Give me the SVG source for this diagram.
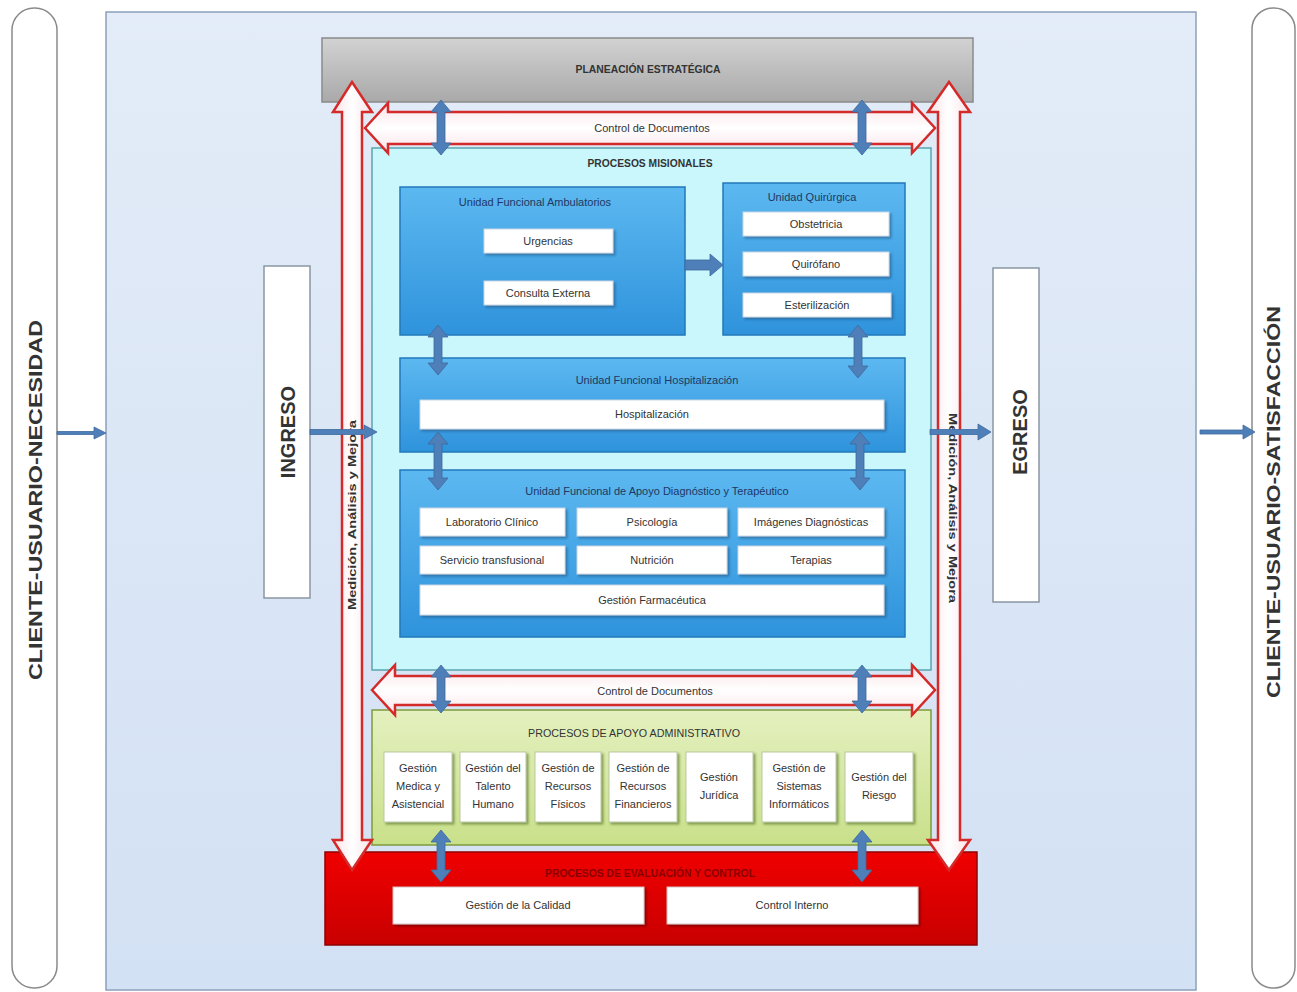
<svg xmlns="http://www.w3.org/2000/svg" width="1297" height="992" viewBox="0 0 1297 992">
<defs>
<linearGradient id="gMain" x1="0" y1="0" x2="0" y2="1"><stop offset="0" stop-color="#e3ecf8"/><stop offset="1" stop-color="#d3e1f4"/></linearGradient>
<linearGradient id="gGray" x1="0" y1="0" x2="0" y2="1"><stop offset="0" stop-color="#d2d2d2"/><stop offset="1" stop-color="#a9a9a9"/></linearGradient>
<linearGradient id="gBlue" x1="0" y1="0" x2="0" y2="1"><stop offset="0" stop-color="#5cb8f0"/><stop offset="1" stop-color="#2f93dc"/></linearGradient>
<linearGradient id="gGreen" x1="0" y1="0" x2="0" y2="1"><stop offset="0" stop-color="#e4f0bf"/><stop offset="1" stop-color="#c9e08a"/></linearGradient>
<linearGradient id="gRed" x1="0" y1="0" x2="0" y2="1"><stop offset="0" stop-color="#f00000"/><stop offset="1" stop-color="#c80000"/></linearGradient>
<linearGradient id="gPink" x1="0" y1="0" x2="1" y2="0"><stop offset="0" stop-color="#fbe3e8"/><stop offset="0.5" stop-color="#ffffff"/><stop offset="1" stop-color="#fbe3e8"/></linearGradient>
<linearGradient id="gPinkH" x1="0" y1="0" x2="0" y2="1"><stop offset="0" stop-color="#fbe3e8"/><stop offset="0.5" stop-color="#ffffff"/><stop offset="1" stop-color="#fbe3e8"/></linearGradient>
<filter id="sh" x="-10%" y="-10%" width="130%" height="140%"><feDropShadow dx="2" dy="2" stdDeviation="1.2" flood-color="#1a4f7a" flood-opacity="0.55"/></filter>
<filter id="shG" x="-10%" y="-10%" width="130%" height="140%"><feDropShadow dx="2" dy="2" stdDeviation="1.2" flood-color="#4d6b20" flood-opacity="0.6"/></filter>
<filter id="shR" x="-10%" y="-10%" width="130%" height="140%"><feDropShadow dx="2" dy="2" stdDeviation="1.2" flood-color="#600000" flood-opacity="0.6"/></filter>
</defs>
<style>
text{font-family:"Liberation Sans Narrow","Liberation Sans",Arial,sans-serif;text-anchor:middle;dominant-baseline:central}
.big{font-size:19px;font-weight:bold;fill:#333}
.io{font-size:20px;font-weight:bold;fill:#333}
.t{font-size:11px;fill:#333}
.h{font-size:11px;fill:#1f3864}
.cap{font-size:10px;font-weight:bold;fill:#333}
.wbox{fill:#ffffff;stroke:#c9d6e3;stroke-width:1}
.unit{fill:url(#gBlue);stroke:#2378bb;stroke-width:1.5}
.barrow{fill:#4f7fb8;stroke:#3d6a9f;stroke-width:0.8}
.rarrow{fill:url(#gPink);stroke:#d42a2a;stroke-width:2.5}
.rarrowH{fill:url(#gPinkH);stroke:#d42a2a;stroke-width:2.5}
.pill{fill:#ffffff;stroke:#8a8a8a;stroke-width:1.5}
.line{stroke:#4a6f96;fill:none}
</style>

<rect x="0" y="0" width="1297" height="992" fill="#ffffff"/>

<g id="cliente-necesidad">
<rect class="pill" x="12" y="8" width="45" height="980" rx="22"/>
<text class="big" transform="translate(35,500) rotate(-90)" textLength="360" lengthAdjust="spacingAndGlyphs">CLIENTE-USUARIO-NECESIDAD</text>
</g>
<g id="cliente-satisfaccion">
<rect class="pill" x="1252" y="8" width="43" height="980" rx="21"/>
<text class="big" transform="translate(1273,502) rotate(-90)" textLength="392" lengthAdjust="spacingAndGlyphs">CLIENTE-USUARIO-SATISFACCIÓN</text>
</g>

<g id="sistema">
<rect x="106" y="12" width="1090" height="978" fill="url(#gMain)" stroke="#8ca0bc" stroke-width="1.5"/>
</g>

<g id="ingreso">
<rect x="264" y="266" width="46" height="332" fill="#ffffff" stroke="#8a96a3" stroke-width="1.5"/>
<text class="io" transform="translate(288,432) rotate(-90)">INGRESO</text>
</g>
<g id="egreso">
<rect x="993" y="268" width="46" height="334" fill="#ffffff" stroke="#8a96a3" stroke-width="1.5"/>
<text class="io" transform="translate(1020,432) rotate(-90)">EGRESO</text>
</g>

<g id="planeacion">
<rect x="322" y="38" width="651" height="64" fill="url(#gGray)" stroke="#8a8a8a" stroke-width="1.5"/>
<text class="cap" x="648" y="69" textLength="145" lengthAdjust="spacingAndGlyphs">PLANEACIÓN ESTRATÉGICA</text>
</g>

<g id="misionales">
<rect x="372" y="148" width="559" height="522" fill="#c9f7fb" stroke="#5aa5b0" stroke-width="1.5"/>
<text class="cap" x="650" y="163" textLength="125" lengthAdjust="spacingAndGlyphs">PROCESOS MISIONALES</text>
</g>

<g id="ambulatorios">
<rect class="unit" x="400" y="187" width="285" height="148"/>
<text class="h" x="535" y="202">Unidad Funcional Ambulatorios</text>
<rect class="wbox" filter="url(#sh)" x="484" y="229" width="129" height="24"/>
<text class="t" x="548" y="241">Urgencias</text>
<rect class="wbox" filter="url(#sh)" x="484" y="281" width="129" height="24"/>
<text class="t" x="548" y="293">Consulta Externa</text>
</g>

<g id="quirurgica">
<rect class="unit" x="723" y="183" width="182" height="152"/>
<text class="h" x="812" y="197">Unidad Quirúrgica</text>
<rect class="wbox" filter="url(#sh)" x="743" y="212" width="146" height="24"/>
<text class="t" x="816" y="224">Obstetricia</text>
<rect class="wbox" filter="url(#sh)" x="743" y="252" width="146" height="24"/>
<text class="t" x="816" y="264">Quirófano</text>
<rect class="wbox" filter="url(#sh)" x="743" y="293" width="148" height="24"/>
<text class="t" x="817" y="305">Esterilización</text>
</g>

<g id="hospitalizacion">
<rect class="unit" x="400" y="358" width="505" height="94"/>
<text class="h" x="657" y="380">Unidad Funcional Hospitalización</text>
<rect class="wbox" filter="url(#sh)" x="420" y="400" width="464" height="29"/>
<text class="t" x="652" y="414">Hospitalización</text>
</g>

<g id="apoyo-diagnostico">
<rect class="unit" x="400" y="470" width="505" height="167"/>
<text class="h" x="657" y="491">Unidad Funcional de Apoyo Diagnóstico y Terapéutico</text>
<rect class="wbox" filter="url(#sh)" x="420" y="508" width="145" height="28"/>
<text class="t" x="492" y="522">Laboratorio Clínico</text>
<rect class="wbox" filter="url(#sh)" x="577" y="508" width="150" height="28"/>
<text class="t" x="652" y="522">Psicología</text>
<rect class="wbox" filter="url(#sh)" x="738" y="508" width="146" height="28"/>
<text class="t" x="811" y="522">Imágenes Diagnósticas</text>
<rect class="wbox" filter="url(#sh)" x="420" y="546" width="145" height="28"/>
<text class="t" x="492" y="560">Servicio transfusional</text>
<rect class="wbox" filter="url(#sh)" x="577" y="546" width="150" height="28"/>
<text class="t" x="652" y="560">Nutrición</text>
<rect class="wbox" filter="url(#sh)" x="738" y="546" width="146" height="28"/>
<text class="t" x="811" y="560">Terapias</text>
<rect class="wbox" filter="url(#sh)" x="420" y="585" width="464" height="30"/>
<text class="t" x="652" y="600">Gestión Farmacéutica</text>
</g>

<g id="apoyo-administrativo">
<rect x="372" y="710" width="559" height="135" fill="url(#gGreen)" stroke="#7d9a3c" stroke-width="1.5"/>
<text class="t" x="634" y="733" fill="#2a3a10" textLength="212" lengthAdjust="spacingAndGlyphs">PROCESOS DE APOYO ADMINISTRATIVO</text>
<g filter="url(#shG)" fill="#ffffff" stroke="#b9c9a0" stroke-width="1">
<rect x="384" y="752" width="68" height="70"/>
<rect x="460" y="752" width="66" height="70"/>
<rect x="535" y="752" width="66" height="70"/>
<rect x="609" y="752" width="68" height="70"/>
<rect x="686" y="752" width="67" height="70"/>
<rect x="762" y="752" width="74" height="70"/>
<rect x="845" y="752" width="68" height="70"/>
</g>
<text class="t" x="418" y="768">Gestión</text><text class="t" x="418" y="786">Medica y</text><text class="t" x="418" y="804">Asistencial</text>
<text class="t" x="493" y="768">Gestión del</text><text class="t" x="493" y="786">Talento</text><text class="t" x="493" y="804">Humano</text>
<text class="t" x="568" y="768">Gestión de</text><text class="t" x="568" y="786">Recursos</text><text class="t" x="568" y="804">Físicos</text>
<text class="t" x="643" y="768">Gestión de</text><text class="t" x="643" y="786">Recursos</text><text class="t" x="643" y="804">Financieros</text>
<text class="t" x="719" y="777">Gestión</text><text class="t" x="719" y="795">Jurídica</text>
<text class="t" x="799" y="768">Gestión de</text><text class="t" x="799" y="786">Sistemas</text><text class="t" x="799" y="804">Informáticos</text>
<text class="t" x="879" y="777">Gestión del</text><text class="t" x="879" y="795">Riesgo</text>
</g>

<g id="evaluacion-control">
<rect x="325" y="852" width="652" height="93" fill="url(#gRed)" stroke="#900000" stroke-width="1.5"/>
<text class="cap" x="650" y="873" fill="#8a0000" style="fill:#8a0000" textLength="210" lengthAdjust="spacingAndGlyphs">PROCESOS DE EVALUACIÓN Y CONTROL</text>
<rect filter="url(#shR)" x="393" y="887" width="251" height="37" fill="#ffffff" stroke="#d8c0c0"/>
<text class="t" x="518" y="905">Gestión de la Calidad</text>
<rect filter="url(#shR)" x="667" y="887" width="251" height="37" fill="#ffffff" stroke="#d8c0c0"/>
<text class="t" x="792" y="905">Control Interno</text>
</g>

<g id="connectors">
<!-- Control de Documentos (top) -->
<polygon class="rarrowH" points="365,128 388,103 388,112 912,112 912,103 935,128 912,153 912,144 388,144 388,153"/>
<text class="t" x="652" y="128">Control de Documentos</text>
<!-- Control de Documentos (bottom) -->
<polygon class="rarrowH" points="372,690 395,665 395,676 912,676 912,665 935,690 912,715 912,705 395,705 395,715"/>
<text class="t" x="655" y="691">Control de Documentos</text>
<!-- Medicion, Analisis y Mejora (vertical) -->
<polygon class="rarrow" points="352,82 372,112 362,112 362,840 372,840 352,870 333,840 342,840 342,112 333,112"/>
<text class="t" transform="translate(352,515) rotate(-90)" textLength="190" lengthAdjust="spacingAndGlyphs" style="font-weight:bold;font-size:10px">Medición, Análisis y Mejora</text>
<polygon class="rarrow" points="949,82 970,112 960,112 960,840 970,840 949,870 928,840 938,840 938,112 928,112"/>
<text class="t" transform="translate(952,508) rotate(90)" textLength="190" lengthAdjust="spacingAndGlyphs" style="font-weight:bold;font-size:10px">Medición, Análisis y Mejora</text>

<!-- blue double arrows -->
<polygon class="barrow" points="441,100 451,112 445,112 445,143 451,143 441,155 431,143 437,143 437,112 431,112"/>
<polygon class="barrow" points="862,100 872,112 866,112 866,143 872,143 862,155 852,143 858,143 858,112 852,112"/>
<polygon class="barrow" points="438,325 448,337 442,337 442,363 448,363 438,375 428,363 434,363 434,337 428,337"/>
<polygon class="barrow" points="858,325 868,337 862,337 862,366 868,366 858,378 848,366 854,366 854,337 848,337"/>
<polygon class="barrow" points="438,432 448,444 442,444 442,478 448,478 438,490 428,478 434,478 434,444 428,444"/>
<polygon class="barrow" points="860,432 870,444 864,444 864,478 870,478 860,490 850,478 856,478 856,444 850,444"/>
<polygon class="barrow" points="441,665 451,677 445,677 445,701 451,701 441,713 431,701 437,701 437,677 431,677"/>
<polygon class="barrow" points="862,665 872,677 866,677 866,701 872,701 862,713 852,701 858,701 858,677 852,677"/>
<polygon class="barrow" points="441,830 451,842 445,842 445,870 451,870 441,882 431,870 437,870 437,842 431,842"/>
<polygon class="barrow" points="862,830 872,842 866,842 866,870 872,870 862,882 852,870 858,870 858,842 852,842"/>

<!-- single arrows -->
<polygon class="barrow" points="685,260 710,260 710,254 723,265 710,276 710,270 685,270"/>
<polygon class="barrow" points="57,431.5 94,431.5 94,427 106,433 94,439 94,434.5 57,434.5"/>
<polygon class="barrow" points="310,429.5 364,429.5 364,425 377,432 364,439 364,434.5 310,434.5"/>
<polygon class="barrow" points="930,429.5 978,429.5 978,424 991,432 978,440 978,434.5 930,434.5"/>
<polygon class="barrow" points="1200,430 1243,430 1243,425 1255,432 1243,439 1243,434 1200,434"/>
</g>
</svg>
